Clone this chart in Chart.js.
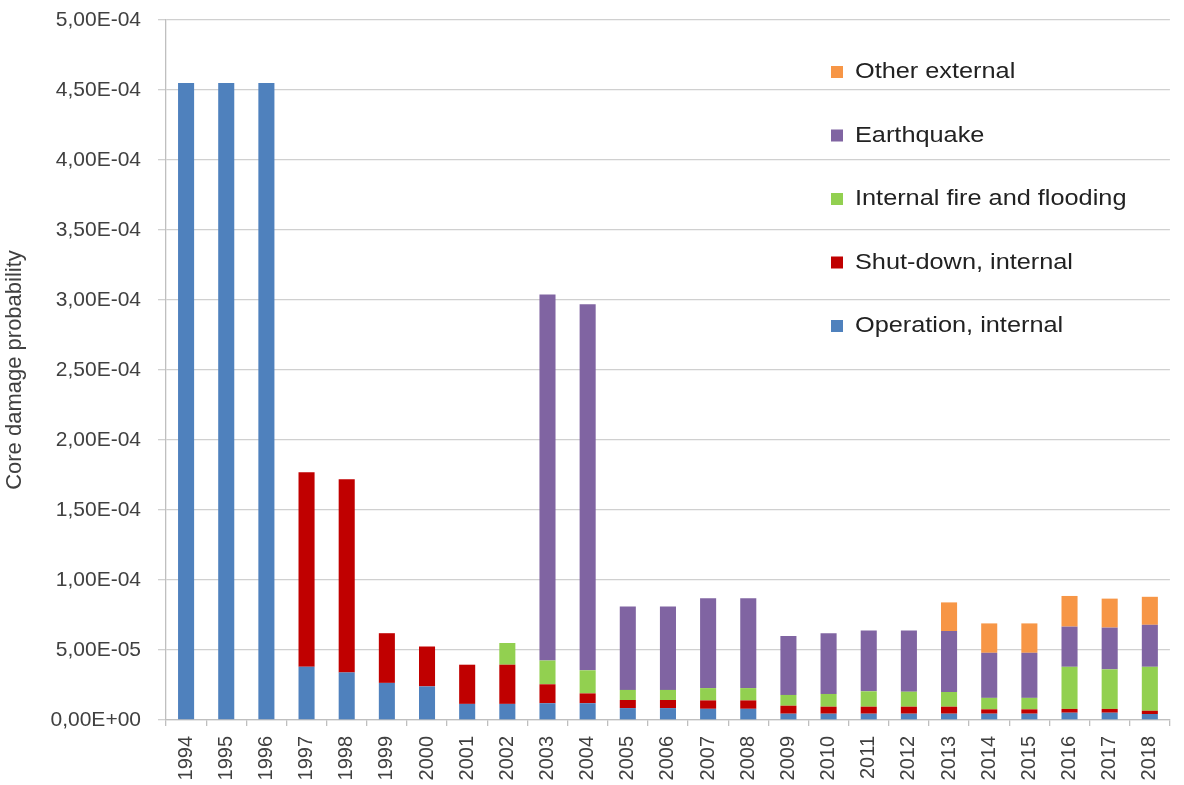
<!DOCTYPE html>
<html lang="en">
  <head>
    <meta charset="UTF-8" />
    <title>Core damage probability by year</title>
    <script src="https://cdn.jsdelivr.net/npm/chart.js"></script>
    <style>
      body {
        margin: 0;
        background: #ffffff;
        font-family: "Liberation Sans", Arial, sans-serif;
      }
      .chart-container {
        position: relative;
        width: 1184px;
        height: 785px;
      }
    </style>
  </head>
  <body>
    <div class="chart-container">
      <canvas id="cdfChart"></canvas>
    </div>

    <script>
      // Years on the x axis
      const years = [
        "1994", "1995", "1996", "1997", "1998", "1999", "2000", "2001", "2002",
        "2003", "2004", "2005", "2006", "2007", "2008", "2009", "2010", "2011",
        "2012", "2013", "2014", "2015", "2016", "2017", "2018",
      ];

      // Contribution of each initiator group (stacked, bottom to top)
      const operationInternal = [
        455e-6, 455e-6, 455e-6, 38e-6, 34e-6, 26.5e-6, 24e-6, 11.5e-6, 11.5e-6,
        12e-6, 12e-6, 8.5e-6, 8.5e-6, 8e-6, 8e-6, 4.5e-6, 4.5e-6, 4.5e-6,
        4.5e-6, 4.5e-6, 4.5e-6, 4.5e-6, 5.2e-6, 5.2e-6, 4.3e-6,
      ];
      const shutdownInternal = [
        0, 0, 0, 139e-6, 138e-6, 35.5e-6, 28.5e-6, 28e-6, 28e-6,
        13.5e-6, 7e-6, 5.8e-6, 5.8e-6, 6e-6, 6e-6, 5.7e-6, 5e-6, 5e-6,
        5e-6, 5e-6, 3.1e-6, 3.1e-6, 2.7e-6, 2.7e-6, 2.3e-6,
      ];
      const fireFlooding = [
        0, 0, 0, 0, 0, 0, 0, 0, 15.5e-6,
        17e-6, 16.5e-6, 7.2e-6, 7.2e-6, 8.8e-6, 8.8e-6, 7.7e-6, 9.1e-6, 11e-6,
        10.7e-6, 10.5e-6, 8.2e-6, 8.2e-6, 30.1e-6, 28.3e-6, 31.4e-6,
      ];
      const earthquake = [
        0, 0, 0, 0, 0, 0, 0, 0, 0,
        261.5e-6, 261.5e-6, 59.5e-6, 59.5e-6, 64.2e-6, 64.2e-6, 42.1e-6, 43.4e-6, 43.5e-6,
        43.8e-6, 43.5e-6, 32.2e-6, 32.2e-6, 28.7e-6, 29.8e-6, 30e-6,
      ];
      const otherExternal = [
        0, 0, 0, 0, 0, 0, 0, 0, 0,
        0, 0, 0, 0, 0, 0, 0, 0, 0,
        0, 20.5e-6, 21e-6, 21e-6, 21.9e-6, 20.7e-6, 20e-6,
      ];

      const seriesNames = [
        "Operation, internal",
        "Shut-down, internal",
        "Internal fire and flooding",
        "Earthquake",
        "Other external",
      ];
      const seriesColors = ["#4f81bd", "#c00000", "#92d050", "#8064a2", "#f79646"];

      const fontFamily = '"Liberation Sans", Arial, sans-serif';

      // "5,00E-04" style tick labels
      const sciComma = (v) => {
        if (Math.abs(v) < 1e-12) return "0,00E+00";
        const [m, e] = v.toExponential(2).split("e");
        const exp = parseInt(e, 10);
        const sign = exp < 0 ? "-" : "+";
        return m.replace(".", ",") + "E" + sign + String(Math.abs(exp)).padStart(2, "0");
      };

      // legend drawn inside the plot, top item = last dataset
      const insideLegend = {
        id: "insideLegend",
        afterDraw(chart) {
          const { ctx, chartArea } = chart;
          const items = chart.data.datasets.slice().reverse();
          ctx.save();
          ctx.font = "22px " + fontFamily;
          ctx.textBaseline = "middle";
          items.forEach((ds, i) => {
            const y = chartArea.top + 52 + i * 63.5;
            ctx.fillStyle = ds.backgroundColor;
            ctx.fillRect(831, y - 6, 12, 12);
            ctx.fillStyle = "#222222";
            // text in the source is a little wider than the font
            ctx.save();
            ctx.translate(855, y);
            ctx.scale(1.15, 1);
            ctx.fillText(ds.label, 0, 0);
            ctx.restore();
          });
          ctx.restore();
        },
      };

      const stacks = [operationInternal, shutdownInternal, fireFlooding, earthquake, otherExternal];

      new Chart(document.getElementById("cdfChart"), {
        type: "bar",
        data: {
          labels: years,
          datasets: stacks.map((values, i) => ({
            label: seriesNames[i],
            data: values,
            backgroundColor: seriesColors[i],
            borderWidth: 0,
            barPercentage: 0.4,
            categoryPercentage: 1.0,
          })),
        },
        options: {
          responsive: true,
          maintainAspectRatio: false,
          animation: false,
          layout: {
            padding: { top: 20, right: 8, left: 2, bottom: 0 },
          },
          plugins: {
            legend: { display: false },
            tooltip: { enabled: false },
          },
          scales: {
            x: {
              stacked: true,
              grid: {
                offset: true,
                drawOnChartArea: false,
                drawTicks: true,
                tickLength: 6,
                color: "#bfbfbf",
                lineWidth: 1.3,
              },
              border: { color: "#bfbfbf", width: 1.3 },
              ticks: {
                minRotation: 90,
                maxRotation: 90,
                padding: 10,
                color: "#404040",
                font: { size: 20, family: fontFamily },
              },
              afterFit: (scale) => {
                scale.height = 65;
              },
            },
            y: {
              stacked: true,
              min: 0,
              max: 5e-4,
              grid: {
                color: "#d0d0d0",
                lineWidth: 1.3,
                tickLength: 8,
              },
              border: { color: "#bfbfbf", width: 1.3 },
              ticks: {
                stepSize: 5e-5,
                padding: 17,
                color: "#404040",
                font: { size: 21, family: fontFamily },
                callback: (v) => sciComma(v),
              },
              title: {
                display: true,
                text: "Core damage probability",
                color: "#404040",
                font: { size: 22, family: fontFamily },
                padding: { top: 0, bottom: 0 },
              },
              afterFit: (scale) => {
                scale.width = 164;
                scale.paddingTop = 0;
                scale.paddingBottom = 0;
              },
            },
          },
        },
        plugins: [insideLegend],
      });
    </script>
  </body>
</html>
